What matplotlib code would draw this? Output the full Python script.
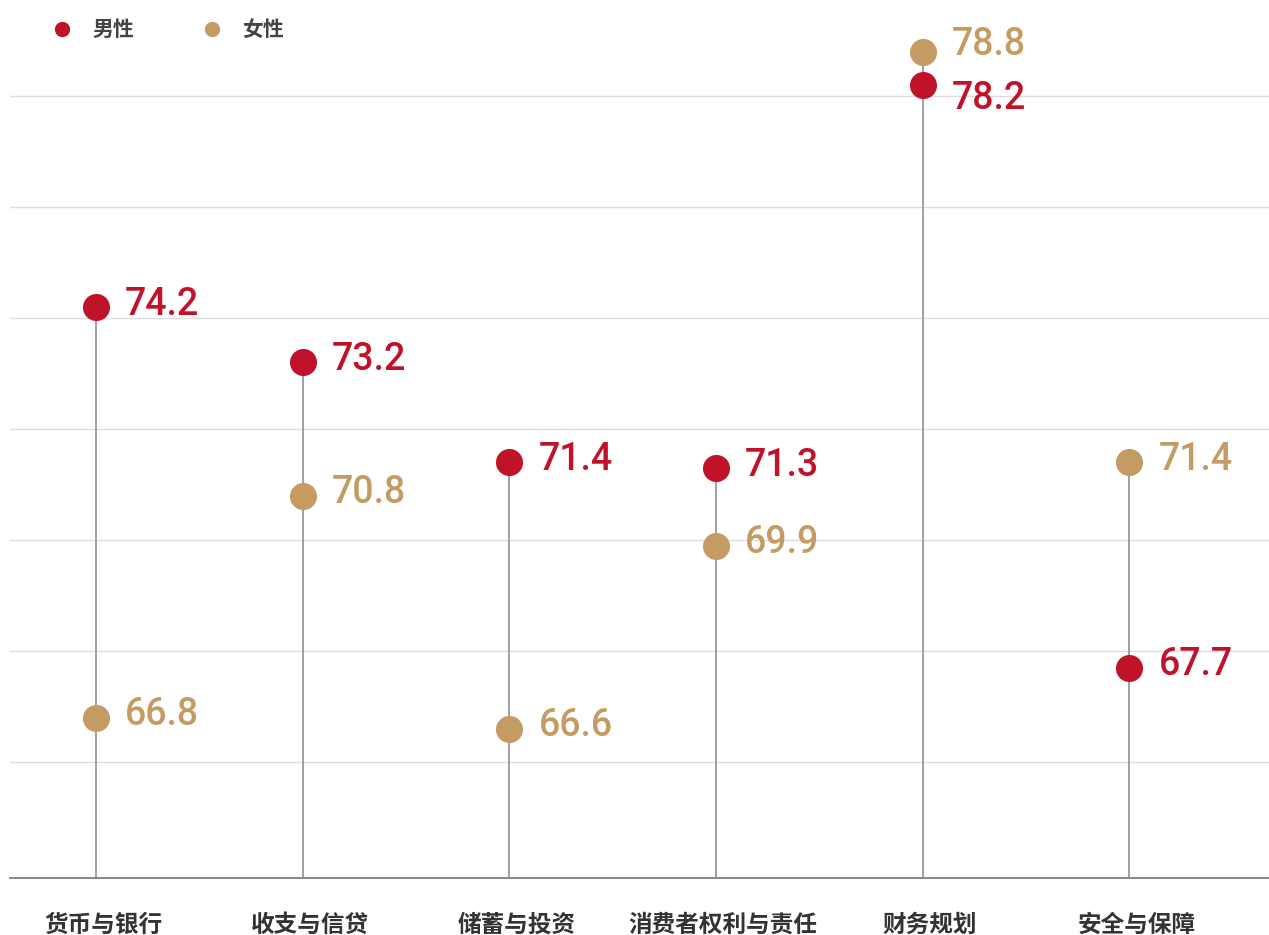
import matplotlib
matplotlib.use("Agg")
import matplotlib.pyplot as plt
from matplotlib.lines import Line2D
import numpy as np

categories = ["货币与银行", "收支与信贷", "储蓄与投资", "消费者权利与责任", "财务规划", "安全与保障"]
male = [74.2, 73.2, 71.4, 71.3, 78.2, 67.7]
female = [66.8, 70.8, 66.6, 69.9, 78.8, 71.4]
legend_labels = ["男性", "女性"]
yticks = [66, 68, 70, 72, 74, 76, 78]

RED = "#C0132A"
TAN = "#C49B62"
CJK = ["Noto Sans CJK SC", "DejaVu Sans"]

W, H = 1269, 935
fig = plt.figure(figsize=(W / 100, H / 100), dpi=100)
ax = fig.add_axes([10 / W, 57 / H, 1 - 10 / W, 878 / H])

x = np.arange(len(categories))
ax.set_xlim(-0.45, 5.64)
ax.set_ylim(63.91, 79.73)

for y in yticks:
    ax.axhline(y, color="#DDDDDD", lw=1.0, zorder=0)

xd = x - 0.035  # stems sit slightly left of the category label centers
for xi, m, f in zip(xd, male, female):
    ax.plot([xi, xi], [63.91, max(m, f)], color="#999999", lw=1.3, zorder=1)

ax.scatter(xd, male, s=380, color=RED, zorder=3, linewidths=0)
ax.scatter(xd, female, s=380, color=TAN, zorder=3, linewidths=0)

# value labels
for xi, m, f in zip(xd, male, female):
    dm, df = 2, 2
    if abs(m - f) < 1.0:
        if m > f:
            dm, df = 5, -10
        else:
            dm, df = -10, 5
    for v, c, d in ((m, RED, dm), (f, TAN, df)):
        ax.annotate(f"{v:.1f}", (xi, v), xytext=(21, d), textcoords="offset points",
                    ha="left", va="center", color=c, fontsize=27,
                    family="Roboto", fontweight="medium", zorder=4)

ax.set_xticks(x)
ax.set_xticklabels(categories, family=CJK, fontsize=17, color="#333333", fontweight="bold")
ax.tick_params(axis="x", length=0, pad=25)
ax.set_yticks([])
for s in ("left", "right", "top"):
    ax.spines[s].set_visible(False)
ax.spines["bottom"].set_color("#888888")
ax.spines["bottom"].set_linewidth(1.4)

# legend
for (lx, tx, col, lab) in ((62, 92, RED, legend_labels[0]), (212, 242, TAN, legend_labels[1])):
    fig.add_artist(Line2D([lx / W], [1 - 29 / H], marker="o", markersize=11,
                          color=col, markeredgewidth=0, transform=fig.transFigure))
    fig.text(tx / W, 1 - 29 / H, lab, family=CJK, fontsize=15, color="#444444",
             ha="left", va="center", fontweight="bold")

fig.savefig("out.png", dpi=100)
